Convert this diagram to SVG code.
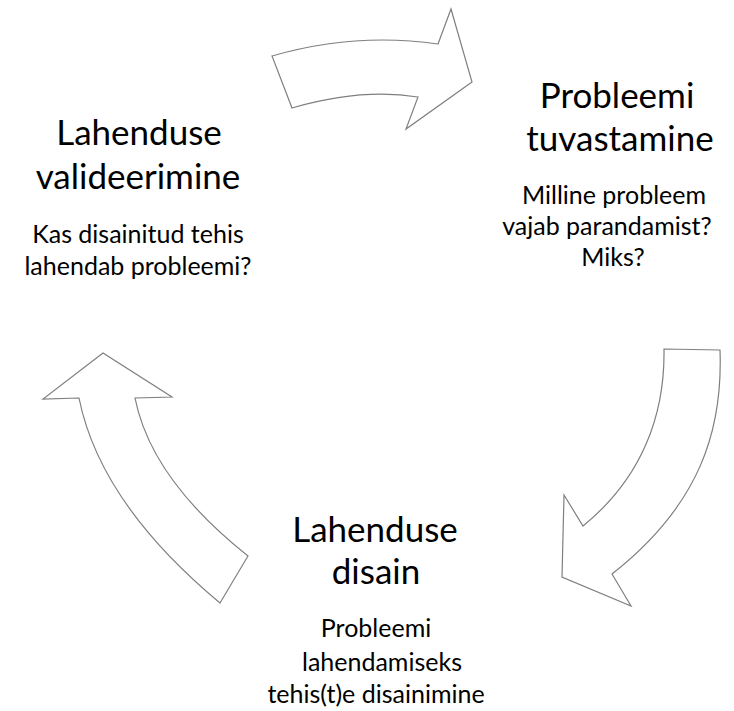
<svg xmlns="http://www.w3.org/2000/svg" width="734" height="711" viewBox="0 0 734 711">
<style>
.arrow{fill:#fff;stroke:#7f7f7f;stroke-width:1.2;stroke-linejoin:miter}
.t{font-family:Lato,"Open Sans","Liberation Sans",sans-serif;fill:#000;text-anchor:middle}
.h{font-size:35px}
.s{font-size:25px}
</style>
<rect width="734" height="711" fill="#fff"/>
<g id="connectors">
<path id="arrow-top" class="arrow" d="M272,56 Q355,32 438,44 L451,9 L472,82 L406,129 L418,97 Q361,88 292,108 Z"/>
<path id="arrow-right" class="arrow" d="M664,349 L720,350 C723,430 700,505 612,574 L631,606 L562,577 L564,495 L583,526 C642,478 665,415 664,349 Z"/>
<path id="arrow-left" class="arrow" d="M220,603 L248,556 Q151,479 135,398 L172,397 L103,353 L43,399 L79,398 Q100,503 220,603 Z"/>
</g>
<g id="node-problem">
<text class="t h" x="617" y="108">Probleemi</text>
<text class="t h" x="620" y="151">tuvastamine</text>
<text class="t s" x="614" y="204">Milline probleem</text>
<text class="t s" x="607" y="235">vajab parandamist?</text>
<text class="t s" x="613" y="266">Miks?</text>
</g>
<g id="node-validation">
<text class="t h" x="139" y="145">Lahenduse</text>
<text class="t h" x="138" y="189">valideerimine</text>
<text class="t s" x="138" y="243">Kas disainitud tehis</text>
<text class="t s" x="138" y="275">lahendab probleemi?</text>
</g>
<g id="node-design">
<text class="t h" x="375" y="542">Lahenduse</text>
<text class="t h" x="376" y="584">disain</text>
<text class="t s" x="376" y="637">Probleemi</text>
<text class="t s" x="382" y="671">lahendamiseks</text>
<text class="t s" x="376" y="703">tehis(t)e disainimine</text>
</g>
</svg>
